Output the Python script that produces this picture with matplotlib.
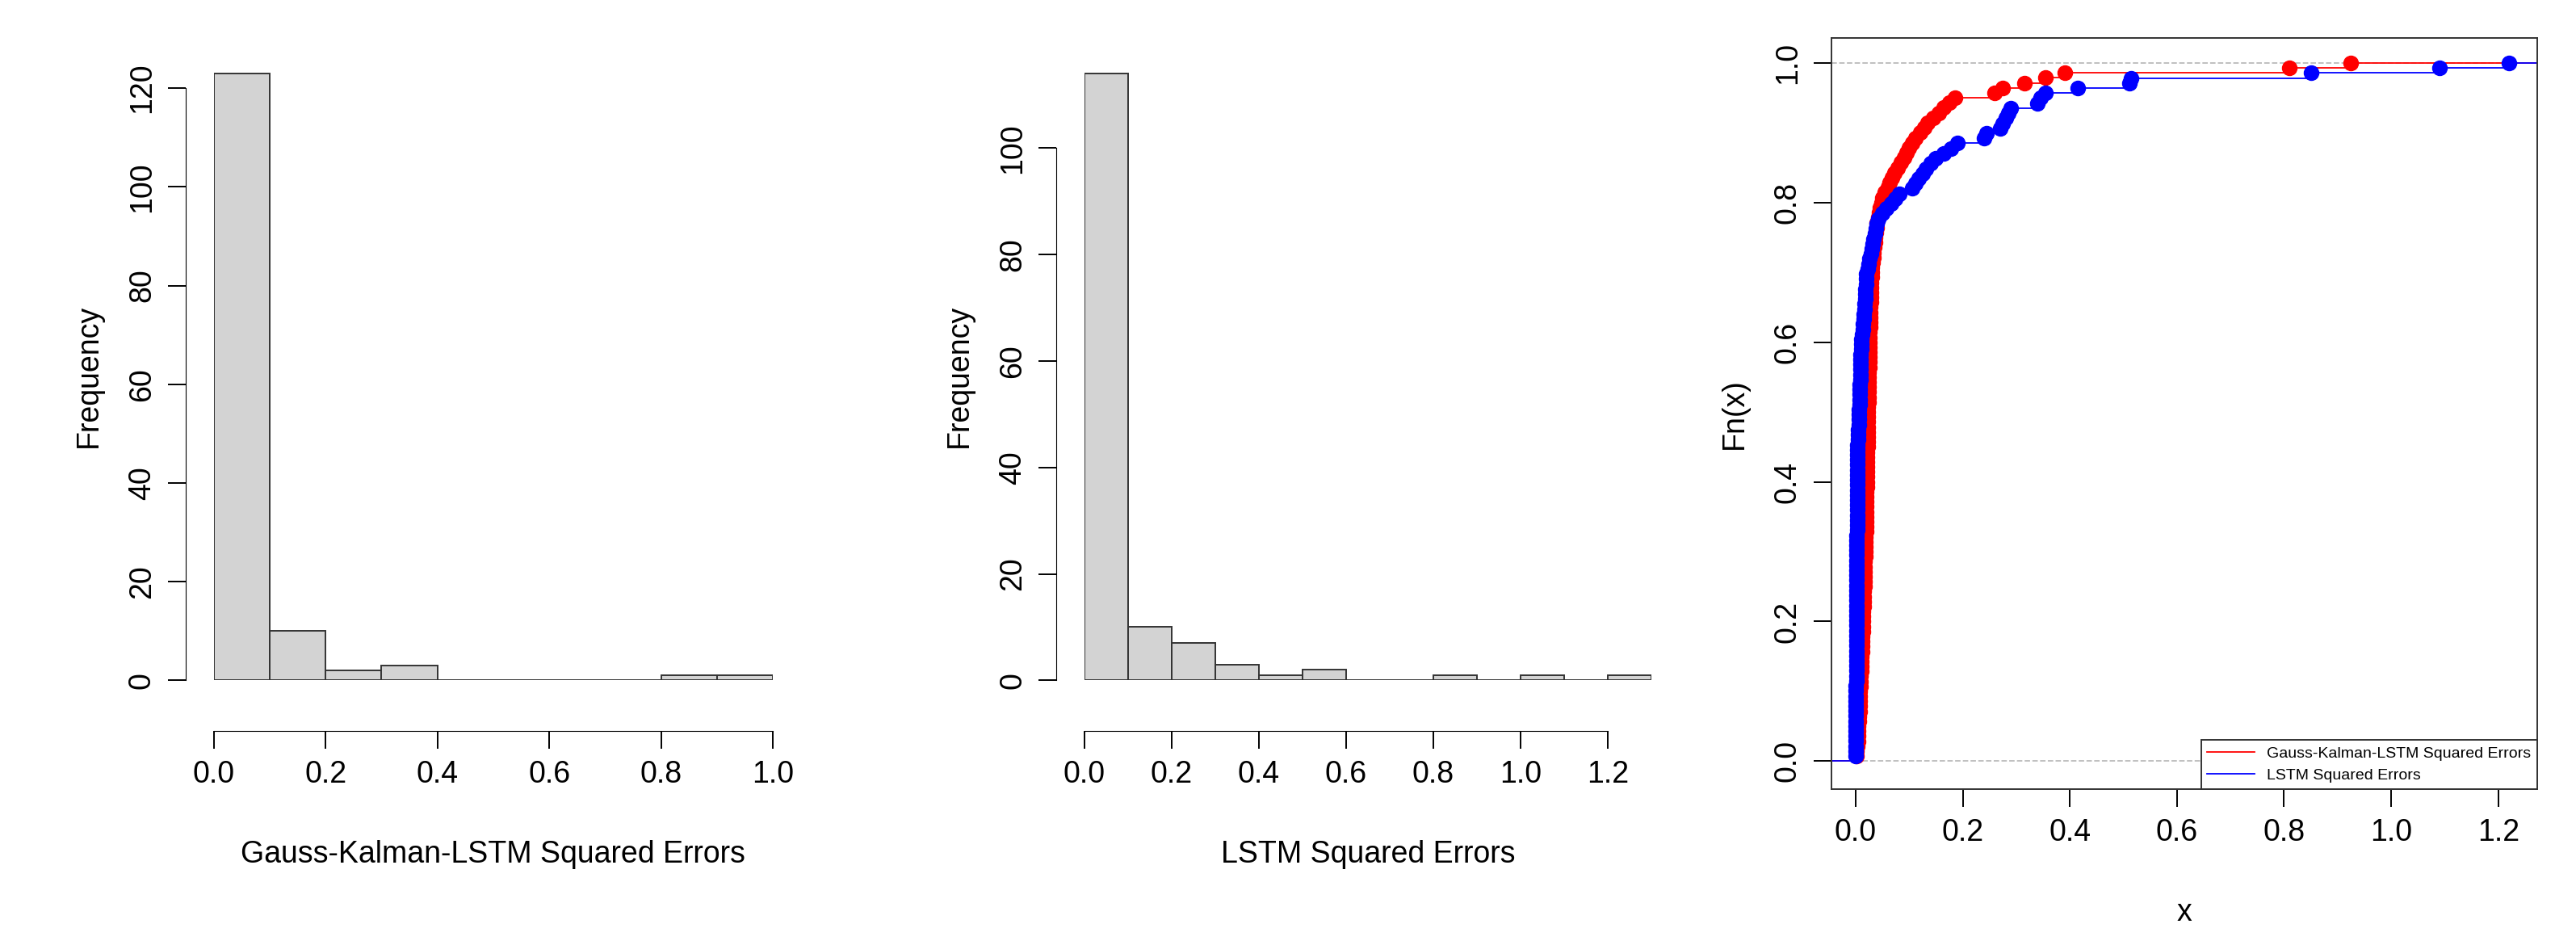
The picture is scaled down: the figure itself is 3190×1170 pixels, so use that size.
import numpy as np
import matplotlib.pyplot as plt

plt.rcParams['font.family'] = ['Liberation Sans', 'DejaVu Sans']

# histogram bins and counts
bins1 = [0.0, 0.1, 0.2, 0.3, 0.4, 0.5, 0.6, 0.7, 0.8, 0.9, 1.0]
counts1 = [123, 10, 2, 3, 0, 0, 0, 0, 1, 1]
bins2 = [0.0, 0.1, 0.2, 0.3, 0.4, 0.5, 0.6, 0.7, 0.8, 0.9, 1.0, 1.1, 1.2, 1.3]
counts2 = [114, 10, 7, 3, 1, 2, 0, 0, 1, 0, 1, 0, 1]

# squared errors
gk_errors = [
    0.001, 0.002, 0.003, 0.004, 0.004, 0.005, 0.005, 0.006, 0.006, 0.007,
    0.007, 0.008, 0.008, 0.008, 0.009, 0.009, 0.009, 0.010,
    0.0105, 0.011, 0.011, 0.0115, 0.012, 0.012, 0.0125, 0.013, 0.013, 0.0135,
    0.014, 0.014, 0.0145, 0.015, 0.015, 0.0155, 0.016, 0.016, 0.0165, 0.017,
    0.017, 0.0172, 0.0175, 0.018, 0.018, 0.0182, 0.0185, 0.019, 0.019, 0.0192,
    0.0195, 0.0198, 0.020, 0.020, 0.0202, 0.0204, 0.0206, 0.0208, 0.021, 0.021,
    0.0212, 0.0214, 0.0216, 0.0218, 0.022, 0.022, 0.0222, 0.0224, 0.0226, 0.0228,
    0.023, 0.0232, 0.0234, 0.0236, 0.0238, 0.024, 0.0242, 0.0244, 0.0246, 0.0248,
    0.025, 0.0252, 0.0254, 0.0256, 0.0258, 0.026, 0.0262, 0.0264, 0.0266, 0.0268,
    0.027, 0.0273, 0.0276, 0.028, 0.0283, 0.0286, 0.029, 0.0293, 0.0296, 0.030,
    0.031, 0.032, 0.033, 0.034, 0.035, 0.036, 0.037, 0.038, 0.039, 0.040,
    0.042, 0.044, 0.046, 0.048, 0.050,
    0.055, 0.060, 0.064, 0.068, 0.072, 0.078, 0.084, 0.090, 0.095, 0.099,
    0.105, 0.112, 0.120, 0.128, 0.135, 0.145, 0.155, 0.165, 0.175, 0.185,
    0.26, 0.275,
    0.316, 0.355, 0.39,
    0.81, 0.925,
]
lstm_errors = [
    0.0001, 0.0002, 0.0002, 0.0003, 0.0003, 0.0004, 0.0004, 0.0005, 0.0005, 0.0006,
    0.0006, 0.0007, 0.0007, 0.0008, 0.0008, 0.0009, 0.0009, 0.0010, 0.0010, 0.0011,
    0.0011, 0.0012, 0.0012, 0.0013, 0.0013, 0.0014, 0.0014, 0.0015, 0.0015, 0.0016,
    0.0016, 0.0017, 0.0017, 0.0018, 0.0018, 0.0019, 0.0019, 0.0020, 0.0020, 0.0021,
    0.0021, 0.0022, 0.0022, 0.0023, 0.0023, 0.0024, 0.0024, 0.0025, 0.0025, 0.0026,
    0.0026, 0.0027, 0.0027, 0.0028, 0.0028, 0.0029, 0.0030, 0.0031, 0.0032, 0.0033,
    0.0034, 0.0036, 0.0038,
    0.004, 0.0045, 0.005, 0.0055, 0.006, 0.0063, 0.0066, 0.007, 0.0073, 0.0076,
    0.008, 0.0083, 0.0086, 0.009, 0.0092, 0.0094, 0.0096, 0.0098, 0.010, 0.0101,
    0.011, 0.012, 0.013, 0.014, 0.0145, 0.015, 0.016, 0.017, 0.0175, 0.018,
    0.0185, 0.019, 0.0195, 0.020,
    0.022, 0.024, 0.026, 0.028, 0.030, 0.032, 0.034, 0.036, 0.038, 0.040, 0.042,
    0.050, 0.058, 0.066, 0.074, 0.082,
    0.105, 0.112, 0.118, 0.125, 0.132, 0.140, 0.150, 0.165, 0.178, 0.19,
    0.24, 0.245, 0.27, 0.275, 0.28, 0.285, 0.29,
    0.34, 0.345, 0.355,
    0.415,
    0.512, 0.515,
    0.85,
    1.09,
    1.22,
]

fig = plt.figure(figsize=(31.9, 11.7), dpi=100)
fs = 27


def r_hist(ax, bins, counts, xlabel, xticks, yticks, ytop):
    ax.bar(bins[:-1], counts, width=np.diff(bins), align='edge',
           color='#d3d3d3', edgecolor='#333333', linewidth=1.4)
    ax.set_xlim(bins[0], bins[-1])
    ax.set_ylim(0, ytop)
    for s in ['top', 'right']:
        ax.spines[s].set_visible(False)
    ax.spines['bottom'].set_position(('outward', 45))
    ax.spines['left'].set_position(('outward', 25))
    ax.spines['bottom'].set_bounds(xticks[0], xticks[-1])
    ax.spines['left'].set_bounds(yticks[0], yticks[-1])
    ax.set_xticks(xticks)
    ax.set_xticklabels(['%.1f' % v for v in xticks])
    ax.set_yticks(yticks)
    ax.set_yticklabels([str(v) for v in yticks], rotation=90, va='center')
    ax.tick_params(labelsize=fs, length=16, width=1.4, pad=10)
    ax.set_xlabel(xlabel, fontsize=fs, labelpad=45)
    ax.set_ylabel('Frequency', fontsize=fs, labelpad=22)


ax1 = fig.add_axes([0.083, 0.28, 0.217, 0.645])
r_hist(ax1, bins1, counts1, 'Gauss-Kalman-LSTM Squared Errors',
       [0.0, 0.2, 0.4, 0.6, 0.8, 1.0], [0, 20, 40, 60, 80, 100, 120], 123.5)

ax2 = fig.add_axes([0.421, 0.28, 0.22, 0.645])
r_hist(ax2, bins2, counts2, 'LSTM Squared Errors',
       [0.0, 0.2, 0.4, 0.6, 0.8, 1.0, 1.2], [0, 20, 40, 60, 80, 100], 114.5)

# ECDF panel
ax3 = fig.add_axes([0.711, 0.165, 0.274, 0.795])
for data, col, lab in [(gk_errors, 'red', 'Gauss-Kalman-LSTM Squared Errors'),
                       (lstm_errors, 'blue', 'LSTM Squared Errors')]:
    x = np.sort(np.array(data))
    y = np.arange(1, len(x) + 1) / len(x)
    xs = np.concatenate([[-0.06], x, [1.3]])
    ys = np.concatenate([[0], y, [1]])
    ax3.step(xs, ys, where='post', color=col, linewidth=1.3, label=lab)
    ax3.plot(x, y, 'o', color=col, markersize=13)
ax3.axhline(0, color='#bbbbbb', linestyle='--', linewidth=1.3, zorder=0)
ax3.axhline(1, color='#bbbbbb', linestyle='--', linewidth=1.3, zorder=0)
ax3.set_xlim(-0.045, 1.273)
ax3.set_ylim(-0.04, 1.036)
ax3.set_xticks([0.0, 0.2, 0.4, 0.6, 0.8, 1.0, 1.2])
ax3.set_xticklabels(['0.0', '0.2', '0.4', '0.6', '0.8', '1.0', '1.2'])
ax3.set_yticks([0.0, 0.2, 0.4, 0.6, 0.8, 1.0])
ax3.set_yticklabels(['0.0', '0.2', '0.4', '0.6', '0.8', '1.0'], rotation=90, va='center')
ax3.tick_params(labelsize=fs, length=16, width=1.4, pad=10)
for s in ax3.spines.values():
    s.set_linewidth(1.4)
    s.set_color('#333333')
ax3.set_xlabel('x', fontsize=fs, labelpad=45)
ax3.set_ylabel('Fn(x)', fontsize=fs, labelpad=22)
leg = ax3.legend(loc='lower right', fontsize=14, fancybox=False, framealpha=1,
                 edgecolor='#333333', borderaxespad=0, handlelength=3)
leg.get_frame().set_linewidth(1.4)

fig.savefig('out.png', dpi=100)
